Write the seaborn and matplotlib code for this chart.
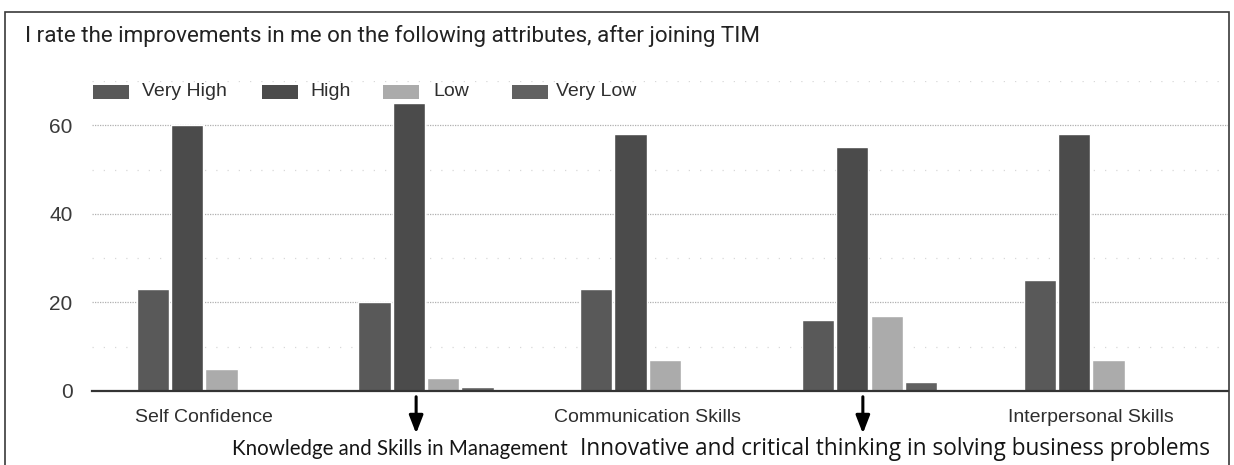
import numpy as np
import pandas as pd
import matplotlib
matplotlib.use("Agg")
import matplotlib.pyplot as plt
from matplotlib.patches import Rectangle
import seaborn as sns

# ---- data -------------------------------------------------------------
attributes = [
    "Self Confidence",
    "Knowledge and Skills in Management",
    "Communication Skills",
    "Innovative and critical thinking in solving business problems",
    "Interpersonal Skills",
]
ratings = ["Very High", "High", "Low", "Very Low"]
very_high = [23, 20, 23, 16, 25]
high = [60, 65, 58, 55, 58]
low = [5, 3, 7, 17, 7]
very_low = [0, 1, 0, 2, 0]
y_ticks = [0, 20, 40, 60]
title = "I rate the improvements in me on the following attributes, after joining TIM"

df = pd.DataFrame({
    "attribute": attributes * 4,
    "rating": [r for r in ratings for _ in attributes],
    "value": very_high + high + low + very_low,
})

colors = {"Very High": "#595959", "High": "#4b4b4b", "Low": "#ababab", "Very Low": "#616161"}

sns.set_theme(style="white")
plt.rcParams["font.family"] = ["Liberation Sans", "DejaVu Sans"]

W, H = 1234, 465
fig = plt.figure(figsize=(W / 100, H / 100), dpi=100)
ax = fig.add_axes([92 / W, 1 - 391 / H, (1228 - 92) / W, (391 - 81) / H])

sns.barplot(data=df, x="attribute", y="value", hue="rating", hue_order=ratings,
            palette=colors, width=0.62, gap=0.06, saturation=1, legend=False, ax=ax,
            order=attributes)

ax.set_xlim(-0.507, 4.617)
ax.set_ylim(0, 70)

# gridlines: dotted majors, sparse faint minors
ax.set_yticks(y_ticks)
ax.set_yticks([10, 30, 50, 70], minor=True)
ax.grid(axis="y", which="major", color="#b0b0b0", linestyle=(0, (1, 1)), linewidth=0.9)
ax.grid(axis="y", which="minor", color="#d8d8d8", linestyle=(0, (1, 8)), linewidth=0.9)
ax.set_axisbelow(True)
for s in ["top", "right", "left"]:
    ax.spines[s].set_visible(False)
ax.spines["bottom"].set_color("#333333")
ax.spines["bottom"].set_linewidth(1.6)

ax.tick_params(axis="y", which="both", length=0, pad=14, labelsize=15, labelcolor="#3a3a3a")
ax.tick_params(axis="x", length=0, pad=13, labelsize=14, labelcolor="#2e2e2e")
ax.set_xticks(range(len(attributes)))
ax.set_xticklabels([a if i % 2 == 0 else "" for i, a in enumerate(attributes)])
ax.set_xlabel("")
ax.set_ylabel("")

# title
fig.text(25 / W, 1 - 36 / H, title, fontsize=16.1, family=["Roboto", "DejaVu Sans"],
         color="#222222", va="center", ha="left")

# legend across the top: swatch left edge and label left edge per entry (pixels)
legend_slots = [(93, 142), (262, 310), (383, 433), (512, 556)]
for r, (sx, tx) in zip(ratings, legend_slots):
    fig.patches.append(Rectangle((sx / W, 1 - 99 / H), 36 / W, 14 / H,
                                 transform=fig.transFigure, facecolor=colors[r],
                                 edgecolor="none"))
    fig.text(tx / W, 1 - 92 / H, r, fontsize=14, color="#2e2e2e",
             va="center", ha="left")

# hand-added labels for the unlabelled categories
for i, off, txt_x, size, fam in [(1, -0.045, 232, 14.8, "Lato"),
                                 (3, -0.03, 580, 16.3, "Open Sans")]:
    ax.annotate("", xy=(i + off, -9.6), xytext=(i + off, -1.3),
                xycoords="data", textcoords="data", annotation_clip=False,
                arrowprops=dict(arrowstyle="-|>,head_length=0.9,head_width=0.35",
                                color="black", lw=2.2, shrinkA=0, shrinkB=0))
    fig.text(txt_x / W, 1 - 449 / H, attributes[i], fontsize=size,
             family=[fam, "DejaVu Sans"], color="#151515", va="center", ha="left")

# outer frame
fig.patches.append(Rectangle((5 / W, -0.05), (1229 - 5) / W, 1.05 - 12 / H,
                             transform=fig.transFigure, fill=False,
                             edgecolor="#3a3a3a", linewidth=1.2))

fig.savefig("out.png", dpi=100)
